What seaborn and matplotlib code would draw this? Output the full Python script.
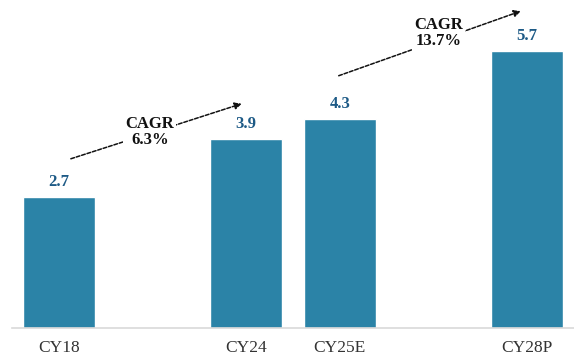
import matplotlib
matplotlib.use("Agg")
import matplotlib.pyplot as plt
import seaborn as sns
import pandas as pd

# Market size by calendar year
years = ["CY18", "CY24", "CY25E", "CY28P"]
values = [2.7, 3.9, 4.3, 5.7]
# Axis slots, with blank spacers for the time gaps
slots = ["CY18", " ", "CY24", "CY25E", "  ", "CY28P"]
cagr_labels = ["CAGR\n6.3%", "CAGR\n13.7%"]

bar_color = "#2b83a7"
value_color = "#1d5a86"

sns.set_theme(style="white")
plt.rcParams["font.family"] = ["Liberation Serif", "DejaVu Serif"]

df = pd.DataFrame({"year": years, "value": values})

fig = plt.figure(figsize=(5.74, 3.59), dpi=100)
ax = fig.add_axes([12 / 574, 31 / 359, 1 - 12 / 574, 1 - 31 / 359])

sns.barplot(data=df, x="year", y="value", order=slots, color=bar_color,
            width=0.77, saturation=1, ax=ax)

for c in ax.containers:
    ax.bar_label(c, labels=[f"{v:.1f}" for v in values], padding=5,
                 color=value_color, fontsize=12, fontweight="bold")

ax.set_xlim(-0.5, 5.5)
ax.set_ylim(0, 6.76)
ax.set_xlabel("")
ax.set_ylabel("")
ax.set_yticks([])
ax.tick_params(axis="x", length=0, pad=9, labelsize=12.5, labelcolor="#333333")

for s in ["top", "right", "left"]:
    ax.spines[s].set_visible(False)
ax.spines["bottom"].set_color("#d9d9d9")
ax.spines["bottom"].set_linewidth(1.2)

# CAGR arrows between periods
arrows = [((0.10, 3.47), (1.98, 4.64), (0.97, 4.03)),
          ((2.96, 5.18), (4.96, 6.55), (4.05, 6.07))]
for (start, end, mid), lab in zip(arrows, cagr_labels):
    ax.annotate("", xy=end, xytext=start,
                arrowprops=dict(arrowstyle="-|>", linestyle=(0, (2.5, 1.2)),
                                color="#111111", lw=1.1, mutation_scale=10),
                zorder=3)
    ax.text(mid[0], mid[1], lab, ha="center", va="center", fontsize=12,
            fontweight="bold", color="#111111", linespacing=1.0, zorder=4,
            bbox=dict(facecolor="white", edgecolor="none", pad=1.5))

fig.savefig("out.png", dpi=100)
